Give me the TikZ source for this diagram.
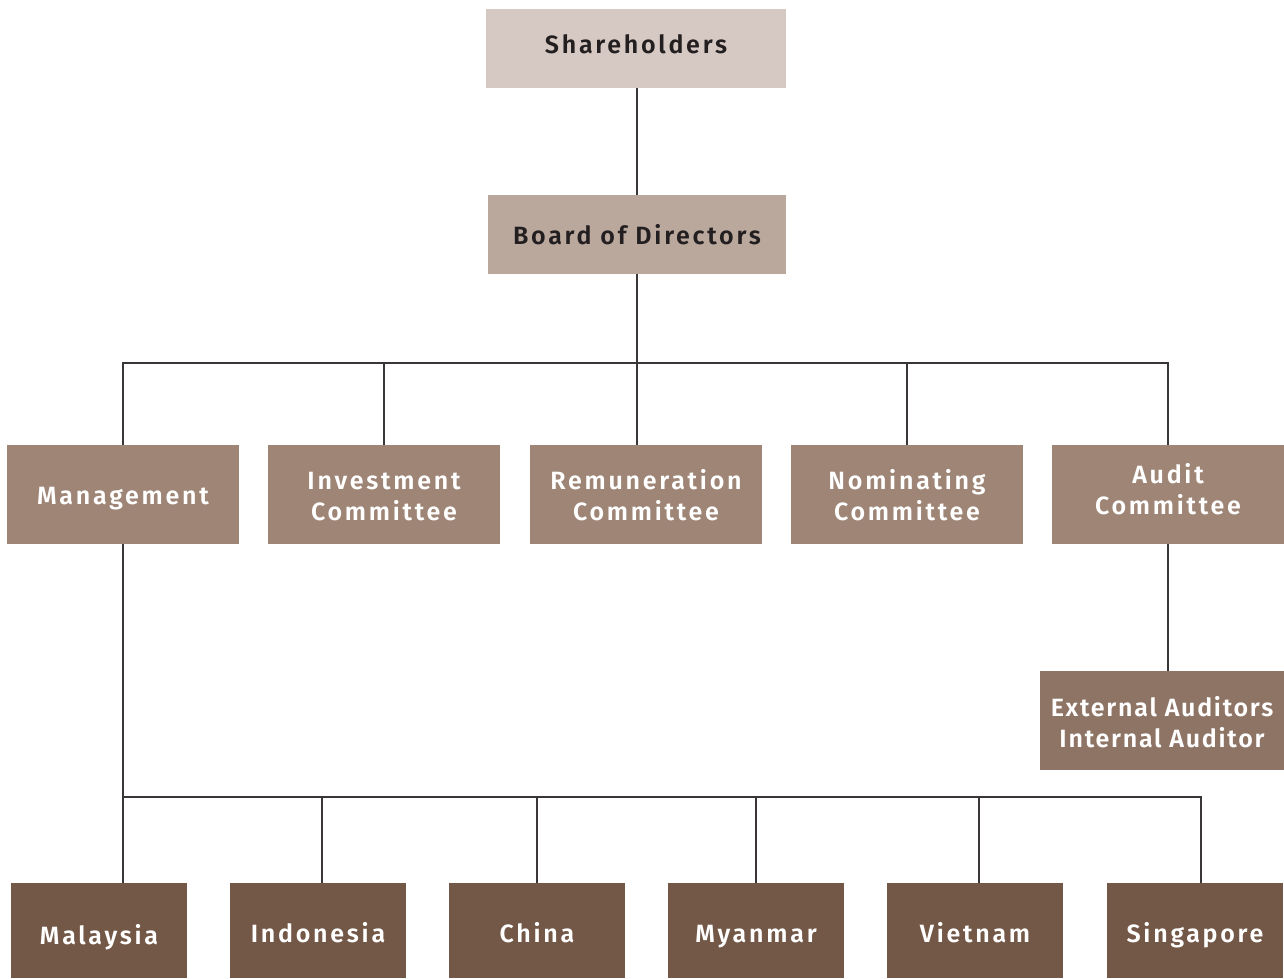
\documentclass[tikz,border=0pt]{standalone}
\usepackage{fontspec}
\newfontfamily\lblfont{Fira Sans}[LetterSpace=11,BoldFont={Fira Sans SemiBold}]
\newfontfamily\lblfontn{Fira Sans}[LetterSpace=7,BoldFont={Fira Sans SemiBold}]
\definecolor{cSh}{HTML}{D6C8C2}
\definecolor{cBd}{HTML}{BAA89D}
\definecolor{cMid}{HTML}{9E8576}
\definecolor{cExt}{HTML}{8E7465}
\definecolor{cLow}{HTML}{735847}
\definecolor{cTxt}{HTML}{231F20}
\definecolor{cLine}{HTML}{3A3536}
\newcommand\tx[2]{\smash{\raisebox{#1}{#2}}}
\newcommand\two[2]{\begin{tabular}[t]{@{}c@{}}#1\\#2\end{tabular}}
\tikzset{
  box/.style={rectangle, inner sep=0pt, text=white,
    font=\lblfont\bfseries\fontsize{25}{31}\selectfont},
  topbox/.style={box, text=cTxt},
  midbox/.style={box, fill=cMid, minimum width=232, minimum height=99},
  lowbox/.style={box, fill=cLow, minimum width=176, minimum height=95},
  link/.style={draw=cLine, line width=1.1pt}
}
\begin{document}
\begin{tikzpicture}[x=1pt,y=-1pt]
\useasboundingbox (0,0) rectangle (1284,978);
% top
\node[topbox, fill=cSh, minimum width=300, minimum height=79] (sh) at (636,48.5) {\tx{-5.1pt}{Shareholders}};
\node[topbox, fill=cBd, minimum width=298, minimum height=79] (bd) at (637,234.5) {\tx{-10pt}{Board of Directors}};
% committees
\node[midbox] (mg) at (123,494.5) {\tx{-10.1pt}{Management}};
\node[midbox] (iv) at (384,494.5) {\tx{4.9pt}{\two{Investment}{Committee}}};
\node[midbox] (rm) at (646,494.5) {\tx{4.9pt}{\two{Remuneration}{Committee}}};
\node[midbox] (nm) at (907,494.5) {\tx{4.9pt}{\two{Nominating}{Committee}}};
\node[midbox] (au) at (1168,494.5) {\tx{10.9pt}{\two{Audit}{Committee}}};
\node[box, fill=cExt, minimum width=244, minimum height=99, font=\lblfontn\bfseries\fontsize{25}{31}\selectfont] (ex) at (1162,720.5) {\tx{3.9pt}{\two{External Auditors}{Internal Auditor}}};
% countries
\node[lowbox] (my) at (99,930.5) {\tx{-14.1pt}{Malaysia}};
\node[lowbox] (id) at (318,930.5) {\tx{-12.1pt}{Indonesia}};
\node[lowbox] (cn) at (537,930.5) {\tx{-12.1pt}{China}};
\node[lowbox] (mm) at (756,930.5) {\tx{-12.1pt}{Myanmar}};
\node[lowbox] (vn) at (975,930.5) {\tx{-12.1pt}{Vietnam}};
\node[lowbox] (sg) at (1195,930.5) {\tx{-12.1pt}{Singapore}};
% buses
\coordinate (bus1) at (637,363);
\coordinate (bus2) at (123,797);
% connectors
\draw[link] ([xshift=1pt]sh.south) -- (bd.north);
\draw[link] (bd.south) -- (bus1);
\draw[link] (mg.north) -- (mg.north |- bus1) -- (au.north |- bus1) -- (au.north);
\draw[link] (iv.north) -- (iv.north |- bus1);
\draw[link] (bus1) -- (bus1 |- rm.north);
\draw[link] (nm.north) -- (nm.north |- bus1);
\draw[link] (au.south) -- (au.south |- ex.north);
\draw[link] (mg.south) -- (bus2) -- ([xshift=6pt]sg.north |- bus2) -- ([xshift=6pt]sg.north);
\draw[link] ([xshift=24pt]my.north) -- ([xshift=24pt]my.north |- bus2);
\draw[link] ([xshift=4pt]id.north) -- ([xshift=4pt]id.north |- bus2);
\draw[link] (cn.north) -- (cn.north |- bus2);
\draw[link] (mm.north) -- (mm.north |- bus2);
\draw[link] ([xshift=4pt]vn.north) -- ([xshift=4pt]vn.north |- bus2);
\end{tikzpicture}
\end{document}
